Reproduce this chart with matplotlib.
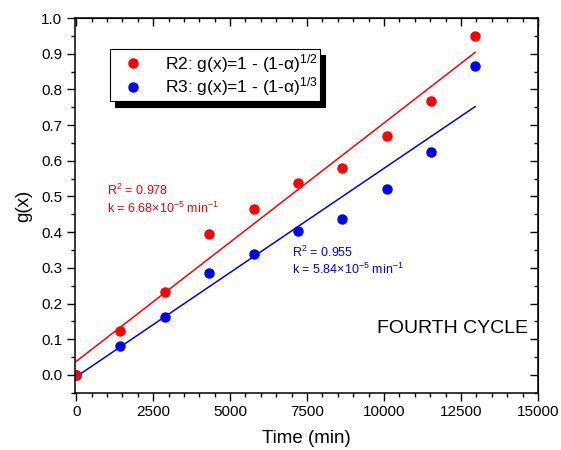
import numpy as np
import matplotlib.pyplot as plt
from matplotlib.ticker import MultipleLocator

plt.rcParams['font.family'] = ['Liberation Sans', 'DejaVu Sans']
plt.rcParams['mathtext.fontset'] = 'custom'
plt.rcParams['mathtext.rm'] = 'Liberation Sans'
plt.rcParams['mathtext.it'] = 'Liberation Sans'

# data
time_min = [0, 1440, 2880, 4320, 5760, 7200, 8640, 10080, 11520, 12960]
g_r2 = [0.0, 0.123, 0.233, 0.396, 0.466, 0.537, 0.579, 0.669, 0.767, 0.950]
g_r3 = [0.0, 0.081, 0.163, 0.287, 0.340, 0.402, 0.438, 0.522, 0.624, 0.865]

# linear fits (slope k, intercept)
k_r2, b_r2 = 6.68e-5, 0.038
k_r3, b_r3 = 5.84e-5, -0.005

fig = plt.figure(figsize=(5.61, 4.5), dpi=100)
ax = fig.add_axes([0.133, 0.127, 0.826, 0.833])

t = np.array([time_min[0], time_min[-1]])
ax.plot(t, k_r2 * t + b_r2, color='red', lw=1.1)
ax.plot(t, k_r3 * t + b_r3, color='blue', lw=1.1)
h3, = ax.plot(time_min, g_r3, 'o', color='blue', ms=6.5, ls='none')
h2, = ax.plot(time_min, g_r2, 'o', color='red', ms=6.5, ls='none')

ax.set_xlim(-50, 15000)
ax.set_ylim(-0.05, 1.0)
ax.xaxis.set_major_locator(MultipleLocator(2500))
ax.xaxis.set_minor_locator(MultipleLocator(500))
ax.yaxis.set_major_locator(MultipleLocator(0.1))
ax.yaxis.set_minor_locator(MultipleLocator(0.05))
ax.yaxis.set_major_formatter(plt.FormatStrFormatter('%.1f'))
ax.tick_params(which='both', direction='out', labelsize=11, width=1)
ax.tick_params(which='major', length=5.5)
ax.tick_params(which='minor', length=3)
for s in ax.spines.values():
    s.set_linewidth(1.1)

# mirrored ticks pointing inward on top and right
top = ax.secondary_xaxis('top')
top.xaxis.set_major_locator(MultipleLocator(2500))
top.xaxis.set_minor_locator(MultipleLocator(500))
top.tick_params(which='both', direction='in', labeltop=False, width=1)
top.tick_params(which='major', length=5.5)
top.tick_params(which='minor', length=3)
right = ax.secondary_yaxis('right')
right.yaxis.set_major_locator(MultipleLocator(0.1))
right.yaxis.set_minor_locator(MultipleLocator(0.05))
right.tick_params(which='both', direction='in', labelright=False, width=1)
right.tick_params(which='major', length=5.5)
right.tick_params(which='minor', length=3)

ax.set_xlabel('Time (min)', fontsize=13.5, labelpad=8)
ax.set_ylabel('g(x)', fontsize=13.5, labelpad=6)

ax.text(1000, 0.505, r'R$^{2}$ = 0.978', color='red', fontsize=9)
ax.text(1000, 0.455, r'k = 6.68$\times$10$^{-5}$ min$^{-1}$', color='red', fontsize=9)
ax.text(7000, 0.330, r'R$^{2}$ = 0.955', color='blue', fontsize=9)
ax.text(7000, 0.282, r'k = 5.84$\times$10$^{-5}$ min$^{-1}$', color='blue', fontsize=9)
ax.text(14680, 0.129, 'FOURTH CYCLE', fontsize=14, ha='right', va='center')

leg = ax.legend([h2, h3],
                [r'R2: g(x)=1 - (1-$\alpha$)$^{1/2}$', r'R3: g(x)=1 - (1-$\alpha$)$^{1/3}$'],
                loc='upper left', bbox_to_anchor=(0.076, 0.917), fontsize=12.5,
                frameon=True, fancybox=False, edgecolor='black', framealpha=1,
                shadow={'color': 'black', 'alpha': 1, 'ox': 4, 'oy': -4},
                handletextpad=0.6, borderpad=0.15, labelspacing=0.05,
                handlelength=2.4, borderaxespad=0)
leg.get_frame().set_linewidth(0.8)

fig.savefig('out.png', dpi=100)
